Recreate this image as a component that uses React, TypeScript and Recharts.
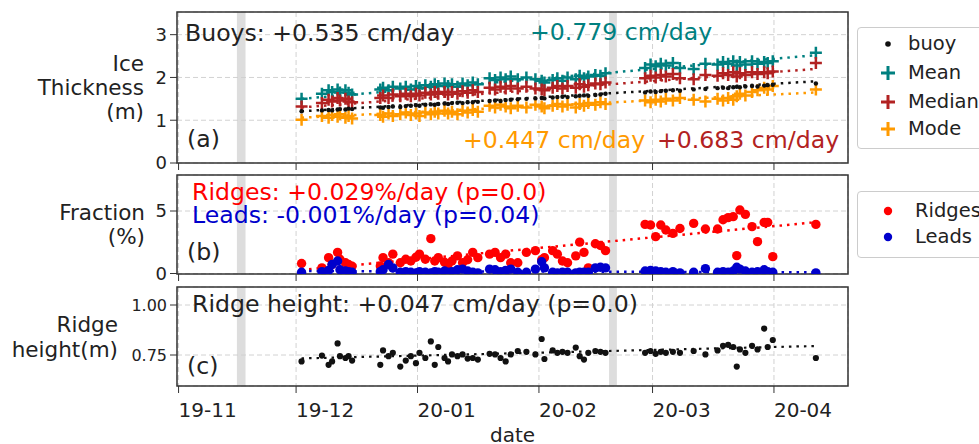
import React from "react";
import {
  ComposedChart,
  Scatter,
  Line,
  XAxis,
  YAxis,
  CartesianGrid,
  ReferenceArea,
  Label,
} from "recharts";

// days counted from 2019-11-01
const days = [
  31.4, 36.6, 38.3, 39.2, 40.6, 41.2, 42.6, 43.4, 44.3,
  51.5, 52.2, 53.6, 54.7, 56.6, 58.0, 59.3, 60.6, 61.5, 63.0,
  64.4, 65.4, 66.3, 67.9, 68.8, 69.8, 71.2, 72.5, 73.8, 75.1,
  76.4, 79.4, 80.8, 82.2, 83.5, 84.8, 86.6, 88.8, 91.1, 92.7,
  93.4, 95.5, 96.7, 98.0, 99.3, 101.4, 102.4, 103.5, 104.6, 106.4,
  107.7, 109.0,
  119.1, 120.5, 121.8, 123.1, 124.4, 126.2, 128.0, 131.5, 134.5,
  137.6, 139.0, 140.3, 141.6, 142.5, 143.3, 144.7, 146.4, 147.8,
  149.5, 150.4, 151.7,
  162.7,
];

const buoy = [
  1.21, 1.23, 1.24, 1.23, 1.25, 1.26, 1.25, 1.27, 1.26,
  1.30, 1.29, 1.31, 1.32, 1.31, 1.33, 1.34, 1.35, 1.34, 1.36,
  1.37, 1.36, 1.38, 1.39, 1.38, 1.40, 1.41, 1.40, 1.42, 1.42,
  1.43, 1.45, 1.46, 1.45, 1.47, 1.48, 1.49, 1.50, 1.51, 1.52,
  1.51, 1.53, 1.54, 1.55, 1.54, 1.56, 1.57, 1.58, 1.57, 1.59,
  1.60, 1.62,
  1.65, 1.67, 1.66, 1.68, 1.69, 1.70, 1.69, 1.72, 1.73,
  1.75, 1.76, 1.75, 1.77, 1.78, 1.77, 1.79, 1.80, 1.79,
  1.81, 1.82, 1.83,
  1.86,
];

const meanThk = [
  1.50, 1.62, 1.70, 1.66, 1.72, 1.65, 1.70, 1.64, 1.60,
  1.72, 1.76, 1.70, 1.78, 1.74, 1.78, 1.72, 1.80, 1.76, 1.82,
  1.78, 1.84, 1.80, 1.86, 1.80, 1.84, 1.78, 1.86, 1.82, 1.88,
  1.84, 1.98, 1.94, 2.00, 1.96, 2.02, 1.96, 2.00, 1.96, 1.92,
  1.88, 1.94, 1.98, 1.92, 2.00, 1.96, 2.04, 1.98, 2.02, 2.06,
  2.04, 2.10,
  2.22, 2.30, 2.26, 2.32, 2.28, 2.34, 2.22, 2.20, 2.32,
  2.30, 2.36, 2.32, 2.38, 2.28, 2.36, 2.30, 2.38, 2.32,
  2.36, 2.34, 2.38,
  2.58,
];

const medianThk = [
  1.32, 1.40, 1.48, 1.44, 1.52, 1.46, 1.50, 1.44, 1.42,
  1.52, 1.58, 1.52, 1.60, 1.56, 1.62, 1.56, 1.62, 1.58, 1.64,
  1.60, 1.66, 1.62, 1.66, 1.60, 1.66, 1.62, 1.68, 1.64, 1.70,
  1.66, 1.76, 1.72, 1.78, 1.74, 1.80, 1.74, 1.78, 1.74, 1.72,
  1.70, 1.76, 1.80, 1.74, 1.80, 1.76, 1.84, 1.78, 1.82, 1.86,
  1.84, 1.88,
  1.98, 2.04, 2.00, 2.06, 2.02, 2.08, 1.98, 1.96, 2.06,
  2.04, 2.10, 2.06, 2.12, 2.02, 2.10, 2.06, 2.12, 2.08,
  2.12, 2.10, 2.14,
  2.34,
];

const modeThk = [
  1.01, 1.10, 1.06, 1.12, 1.08, 1.14, 1.06, 1.10, 1.04,
  1.12, 1.08, 1.16, 1.10, 1.14, 1.18, 1.12, 1.16, 1.10, 1.18,
  1.14, 1.20, 1.16, 1.22, 1.16, 1.20, 1.14, 1.22, 1.18, 1.24,
  1.20, 1.34, 1.30, 1.36, 1.32, 1.28, 1.34, 1.30, 1.36, 1.32,
  1.28, 1.34, 1.38, 1.32, 1.36, 1.30, 1.38, 1.34, 1.40, 1.36,
  1.42, 1.38,
  1.46, 1.42, 1.48, 1.44, 1.50, 1.46, 1.52, 1.48, 1.44,
  1.50, 1.46, 1.52, 1.48, 1.56, 1.62, 1.58, 1.66, 1.70,
  1.76, 1.72, 1.80,
  1.72,
];

const ridges = [
  0.80, 0.45, 1.27, 0.72, 1.69, 1.14, 0.86, 0.72, 0.58,
  0.60, 1.27, 0.86, 1.55, 0.86, 1.14, 1.00, 1.30, 1.55, 1.14,
  2.79, 1.00, 1.27, 0.90, 0.72, 1.00, 1.41, 0.86, 1.10, 1.69,
  1.27, 1.55, 1.69, 1.27, 1.55, 0.86, 0.86, 1.69, 1.83, 1.10,
  1.27, 1.83, 1.55, 1.00, 0.86, 1.41, 2.51, 1.69, 0.45, 2.38,
  2.24, 1.83,
  3.93, 3.88, 2.95, 3.88, 3.48, 3.21, 3.60, 4.01, 3.56,
  3.56, 4.30, 4.47, 4.55, 1.43, 5.08, 4.73, 3.75, 2.55,
  4.09, 4.09, 1.35,
  3.93,
];

const leads = [
  0.10, 0.15, 0.25, 0.72, 1.00, 0.30, 0.20, 0.15, 0.10,
  0.15, 0.30, 0.72, 0.45, 0.10, 0.15, 0.10, 0.05, 0.15, 0.10,
  0.05, 0.15, 0.10, 0.20, 0.10, 0.15, 0.30, 0.35, 0.20, 0.10,
  0.05, 0.35, 0.30, 0.15, 0.25, 0.35, 0.10, 0.10, 0.35, 0.94,
  0.45, 0.10, 0.05, 0.10, 0.10, 0.05, 0.10, 0.10, 0.10, 0.45,
  0.50, 0.45,
  0.20, 0.25, 0.20, 0.15, 0.10, 0.15, 0.05, 0.10, 0.39,
  0.10, 0.15, 0.10, 0.20, 0.50, 0.35, 0.20, 0.10, 0.15,
  0.30, 0.15, 0.10,
  0.05,
];

const ridgeHeight = [
  0.718, 0.747, 0.701, 0.718, 0.808, 0.744, 0.735, 0.744, 0.722,
  0.701, 0.773, 0.744, 0.761, 0.692, 0.722, 0.744, 0.709, 0.761, 0.735,
  0.818, 0.701, 0.79, 0.735, 0.718, 0.753, 0.744, 0.753, 0.732, 0.735,
  0.727, 0.756, 0.753, 0.735, 0.718, 0.753, 0.77, 0.766, 0.753, 0.83,
  0.73, 0.773, 0.761, 0.766, 0.761, 0.787, 0.744, 0.727, 0.761, 0.77,
  0.766, 0.761,
  0.761, 0.77, 0.756, 0.766, 0.761, 0.766, 0.761, 0.77, 0.753,
  0.773, 0.796, 0.801, 0.79, 0.692, 0.778, 0.761, 0.796, 0.778,
  0.882, 0.79, 0.825,
  0.735,
];

// linear trend lines, start / end of the record
const fitDays = [31.4, 162.7];
const buoyFit = [1.21, 1.91];
const meanFit = [1.5, 2.52];
const medianFit = [1.3, 2.2];
const modeFit = [1.06, 1.65];
const ridgesFit = [0.28, 4.1];
const leadsFit = [0.2, 0.1];
const heightFit = [0.733, 0.795];

const monthTicks = [0, 30, 61, 92, 121, 152];
const monthLabels = ["19-11", "19-12", "20-01", "20-02", "20-03", "20-04"];
const gapBands = [
  [14.9, 17.1],
  [109.9, 111.9],
];
const xDomain = [-0.4, 170.9];

const FONT = '"DejaVu Sans", Verdana, sans-serif';
const INK = "#222";
const C = {
  buoy: "#111",
  mean: "#008080",
  median: "#b22222",
  mode: "#ff9a00",
  ridges: "#ff0000",
  leads: "#0000cc",
};

// panel annotations (page pixels)
const notes = [
  { t: "Buoys: +0.535 cm/day", x: 185, y: 40.5, c: INK },
  { t: "+0.779 cm/day", x: 530, y: 39.5, c: C.mean },
  { t: "(a)", x: 187, y: 146.5, c: INK },
  { t: "+0.447 cm/day", x: 463, y: 148, c: C.mode },
  { t: "+0.683 cm/day", x: 657, y: 148, c: C.median },
  { t: "Ridges: +0.029%/day (p=0.0)", x: 192, y: 200, c: C.ridges },
  { t: "Leads: -0.001%/day (p=0.04)", x: 192, y: 222.5, c: C.leads },
  { t: "(b)", x: 187, y: 260, c: INK },
  { t: "Ridge height: +0.047 cm/day (p=0.0)", x: 192, y: 311.5, c: INK },
  { t: "(c)", x: 187, y: 374, c: INK },
];

const pts = (ys: number[]) => days.map((d, i) => ({ x: d, y: ys[i] }));
const fit = (ys: number[]) => fitDays.map((d, i) => ({ x: d, y: ys[i] }));

const plus = (color: string) => (p: any) =>
  p.cx == null ? <g /> : (
    <path
      d={`M${p.cx - 6},${p.cy}H${p.cx + 6}M${p.cx},${p.cy - 6}V${p.cy + 6}`}
      stroke={color}
      strokeWidth={2.5}
      fill="none"
    />
  );
const dot = (color: string, r: number) => (p: any) =>
  p.cx == null ? <g /> : <circle cx={p.cx} cy={p.cy} r={r} fill={color} />;

const yLabel = (lines: string[], right: number, gap: number) => (props: any) => {
  const vb = props.viewBox;
  const first = vb.y + vb.height / 2 - ((lines.length - 1) * gap) / 2 + 7.5;
  return (
    <text textAnchor="end" fontSize={21.5} fill={INK}>
      {lines.map((l, i) => (
        <tspan key={i} x={vb.x + right} y={first + i * gap}>
          {l}
        </tspan>
      ))}
    </text>
  );
};

const noTick = () => <g />;
const monthTick = (p: any) => (
  <text x={p.x} y={p.y} dy={21.5} textAnchor="start" fontSize={20} fill={INK}>
    {monthLabels[monthTicks.indexOf(p.payload.value)]}
  </text>
);

const frame = (yDom: number[]) => (
  <ReferenceArea
    x1={xDomain[0]}
    x2={xDomain[1]}
    y1={yDom[0]}
    y2={yDom[1]}
    fill="none"
    stroke="#333"
    strokeWidth={1.5}
    ifOverflow="visible"
  />
);
const bands = (yDom: number[]) =>
  gapBands.map((b, i) => (
    <ReferenceArea
      key={`band-${i}`}
      x1={b[0]}
      x2={b[1]}
      y1={yDom[0]}
      y2={yDom[1]}
      fill="#cfcfcf"
      fillOpacity={0.7}
      stroke="none"
    />
  ));

const trend = (ys: number[], color: string, w = 2.5) => (
  <Line
    data={fit(ys)}
    dataKey="y"
    stroke={color}
    strokeWidth={w}
    strokeDasharray="2.5 5"
    dot={false}
    activeDot={false}
    isAnimationActive={false}
  />
);

const yThk = [0, 3.53];
const yFrac = [-0.04, 7.88];
const yHgt = [0.595, 1.09];

const legendRow = (top: number, textLeft: number, label: string, marker: React.ReactNode) => (
  <div key={label} style={{ position: "absolute", left: 0, top: top - 12, height: 24, width: 160 }}>
    <svg width={40} height={24} style={{ position: "absolute", left: 10, top: 0 }}>
      {marker}
    </svg>
    <span style={{ position: "absolute", left: textLeft, top: 0, lineHeight: "24px", fontSize: 19.5, color: INK }}>
      {label}
    </span>
  </div>
);
const legPlus = (c: string) => <path d="M13,12H27M20,5V19" stroke={c} strokeWidth={3} fill="none" />;

const App: React.FC = () => {
  return (
    <div
      style={{
        position: "absolute",
        left: 0,
        top: 0,
        width: 979,
        height: 444,
        overflow: "hidden",
        background: "#fff",
        fontFamily: FONT,
      }}
    >
      {/* (a) ice thickness */}
      <div style={{ position: "absolute", left: 0, top: 0 }}>
        <ComposedChart width={979} height={175} margin={{ top: 12, right: 131, bottom: 2, left: 0 }}>
          <CartesianGrid stroke="#d2d2d2" strokeDasharray="5 3" />
          <XAxis type="number" dataKey="x" domain={xDomain} ticks={monthTicks} interval={0} allowDataOverflow
            height={10} tickSize={7} axisLine={false} tickLine={{ stroke: "#333" }} tick={noTick} />
          <YAxis type="number" dataKey="y" domain={yThk} ticks={[0, 1, 2, 3]} interval={0} allowDataOverflow
            width={177} tickSize={7} tickMargin={3} axisLine={false} tickLine={{ stroke: "#333" }}
            tick={{ fontSize: 18, fill: INK }}>
            <Label content={yLabel(["Ice", "Thickness", "(m)"], 144, 24)} />
          </YAxis>
          {bands(yThk)}
          {trend(meanFit, C.mean)}
          {trend(medianFit, C.median)}
          {trend(modeFit, C.mode)}
          {trend(buoyFit, C.buoy)}
          <Scatter data={pts(meanThk)} fill={C.mean} shape={plus(C.mean)} isAnimationActive={false} />
          <Scatter data={pts(medianThk)} fill={C.median} shape={plus(C.median)} isAnimationActive={false} />
          <Scatter data={pts(modeThk)} fill={C.mode} shape={plus(C.mode)} isAnimationActive={false} />
          <Scatter data={pts(buoy)} fill={C.buoy} shape={dot(C.buoy, 2.2)} isAnimationActive={false} />
          {frame(yThk)}
        </ComposedChart>
      </div>

      {/* (b) ridge / lead fraction */}
      <div style={{ position: "absolute", left: 0, top: 170 }}>
        <ComposedChart width={979} height={116} margin={{ top: 5, right: 131, bottom: 2, left: 0 }}>
          <CartesianGrid stroke="#d2d2d2" strokeDasharray="5 3" />
          <XAxis type="number" dataKey="x" domain={xDomain} ticks={monthTicks} interval={0} allowDataOverflow
            height={10} tickSize={7} axisLine={false} tickLine={{ stroke: "#333" }} tick={noTick} />
          <YAxis type="number" dataKey="y" domain={yFrac} ticks={[0, 5]} interval={0} allowDataOverflow
            width={177} tickSize={7} tickMargin={3} axisLine={false} tickLine={{ stroke: "#333" }}
            tick={{ fontSize: 18, fill: INK }}>
            <Label content={yLabel(["Fraction", "(%)"], 145, 24)} />
          </YAxis>
          {bands(yFrac)}
          {trend(ridgesFit, C.ridges)}
          {trend(leadsFit, C.leads)}
          <Scatter data={pts(ridges)} fill={C.ridges} shape={dot(C.ridges, 4.7)} isAnimationActive={false} />
          <Scatter data={pts(leads)} fill={C.leads} shape={dot(C.leads, 4.7)} isAnimationActive={false} />
          {frame(yFrac)}
        </ComposedChart>
      </div>

      {/* (c) ridge height */}
      <div style={{ position: "absolute", left: 0, top: 280 }}>
        <ComposedChart width={979} height={164} margin={{ top: 7, right: 131, bottom: 0, left: 0 }}>
          <CartesianGrid stroke="#d2d2d2" strokeDasharray="5 3" />
          <XAxis type="number" dataKey="x" domain={xDomain} ticks={monthTicks} interval={0} allowDataOverflow
            height={58} tickSize={7} tickMargin={2} axisLine={false} tickLine={{ stroke: "#333" }} tick={monthTick}>
            <Label
              content={(p: any) => (
                <text x={p.viewBox.x + p.viewBox.width / 2} y={p.viewBox.y + p.viewBox.height - 2.5}
                  textAnchor="middle" fontSize={20} fill={INK}>
                  date
                </text>
              )}
            />
          </XAxis>
          <YAxis type="number" dataKey="y" domain={yHgt} ticks={[0.75, 1.0]} interval={0} allowDataOverflow
            width={177} tickSize={7} tickMargin={3} axisLine={false} tickLine={{ stroke: "#333" }}
            tick={{ fontSize: 16, fill: INK }} tickFormatter={(v: number) => v.toFixed(2)}>
            <Label content={yLabel(["Ridge", "height(m)"], 118, 25)} />
          </YAxis>
          {bands(yHgt)}
          {trend(heightFit, C.buoy, 2.2)}
          <Scatter data={pts(ridgeHeight)} fill={C.buoy} shape={dot(C.buoy, 3.1)} isAnimationActive={false} />
          {frame(yHgt)}
        </ComposedChart>
      </div>

      {/* annotations drawn above the grey gap bands */}
      <svg width={979} height={444} style={{ position: "absolute", left: 0, top: 0, pointerEvents: "none" }}>
        {notes.map((a, i) => (
          <text key={i} x={a.x} y={a.y} fontSize={23.6} fill={a.c} fontFamily={FONT}>
            {a.t}
          </text>
        ))}
      </svg>

      {/* legends */}
      <div style={{ position: "absolute", left: 857, top: 27, width: 140, height: 122, border: "1px solid #cccccc", borderRadius: 4, background: "#fff", boxSizing: "border-box" }}>
        {legendRow(16, 50, "buoy", <circle cx={20} cy={12} r={2.8} fill={C.buoy} />)}
        {legendRow(45, 50, "Mean", legPlus(C.mean))}
        {legendRow(74, 50, "Median", legPlus(C.median))}
        {legendRow(101, 50, "Mode", legPlus(C.mode))}
      </div>
      <div style={{ position: "absolute", left: 857, top: 191, width: 140, height: 67, border: "1px solid #cccccc", borderRadius: 4, background: "#fff", boxSizing: "border-box" }}>
        {legendRow(19, 57, "Ridges", <circle cx={20} cy={12} r={4.2} fill={C.ridges} />)}
        {legendRow(45, 57, "Leads", <circle cx={20} cy={12} r={4.2} fill={C.leads} />)}
      </div>
    </div>
  );
};

export default App;
